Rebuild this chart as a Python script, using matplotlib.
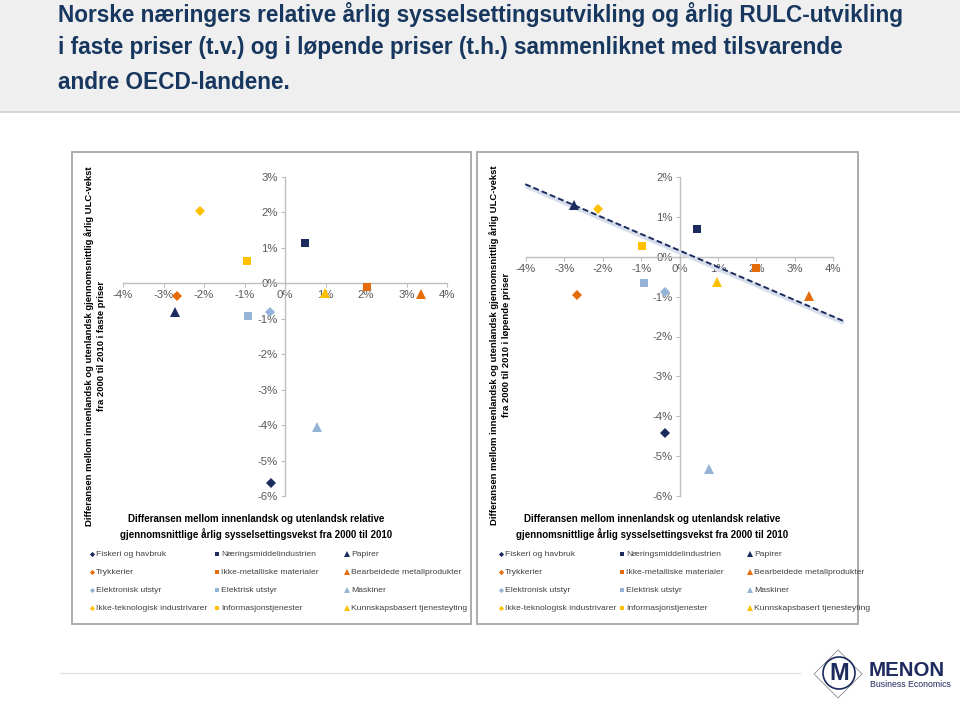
import numpy as np
import matplotlib
matplotlib.use("Agg")
import matplotlib.pyplot as plt
from matplotlib.lines import Line2D
from matplotlib.patches import Rectangle, Circle, Polygon
import matplotlib.transforms as mtransforms

# ---- data ----
series_names = [
    "Fiskeri og havbruk", "Næringsmiddelindustrien", "Papirer",
    "Trykkerier", "Ikke-metalliske materialer", "Bearbeidede metallprodukter",
    "Elektronisk utstyr", "Elektrisk utstyr", "Maskiner",
    "Ikke-teknologisk industrivarer", "Informasjonstjenester", "Kunnskapsbasert tjenesteyting",
]
# x: relativ sysselsettingsvekst (%), y: relativ ULC-vekst (%)
x_vals = [-0.34, 0.49, -2.72, -2.66, 2.02, 3.36, -0.37, -0.91, 0.78, -2.10, -0.95, 0.99]
y_faste = [-5.64, 1.15, -0.81, -0.36, -0.10, -0.29, -0.80, -0.92, -4.05, 2.04, 0.63, -0.27]

x_vals_lop = [-0.37, 0.46, -2.76, -2.68, 2.00, 3.37, -0.38, -0.93, 0.77, -2.13, -0.98, 0.98]
y_lopende = [-4.42, 0.70, 1.30, -0.96, -0.27, -0.98, -0.88, -0.67, -5.32, 1.19, 0.27, -0.63]

trend_x = [-4.02, 4.27]
trend_y = [1.82, -1.61]

left_yticks = [3, 2, 1, 0, -1, -2, -3, -4, -5, -6]
right_yticks = [2, 1, 0, -1, -2, -3, -4, -5, -6]
xticks = [-4, -3, -2, -1, 0, 1, 2, 3, 4]

# colours per row, marker per column
row_colors = ["#1b2b5e", "#e46c0a", "#95b3d7", "#ffc000"]
col_markers = ["D", "s", "^"]
marker_size = {"D": 4.8, "s": 6.3, "^": 7.3}

W, H = 960, 702
plt.rcParams["font.family"] = ["Liberation Sans", "DejaVu Sans"]

fig = plt.figure(figsize=(W / 100, H / 100), dpi=100)
fig.patch.set_facecolor("white")


def fx(px):
    return px / W


def fy(py):
    return 1 - py / H


# header band
fig.add_artist(Rectangle((0, fy(112)), 1, 1 - fy(112), transform=fig.transFigure,
                         facecolor="#efefef", edgecolor="none", zorder=-2))
fig.add_artist(Line2D([0, 1], [fy(112), fy(112)], transform=fig.transFigure,
                      color="#cfcfcf", lw=1.2, zorder=-1))
title_lines = [
    "Norske næringers relative årlig sysselsettingsutvikling og årlig RULC-utvikling",
    "i faste priser (t.v.) og i løpende priser (t.h.) sammenliknet med tilsvarende",
    "andre OECD-landene.",
]
for line, base in zip(title_lines, [22, 54, 89]):
    fig.text(fx(58), fy(base), line, fontsize=16.3, fontweight="bold", color="#17375e",
             va="baseline", ha="left")

# panel frames
for x0, x1 in [(72, 471), (477, 858)]:
    fig.add_artist(Rectangle((fx(x0), fy(624)), fx(x1) - fx(x0), fy(152) - fy(624),
                             transform=fig.transFigure, facecolor="white",
                             edgecolor="#a6a6a6", lw=1.3, zorder=-1))


def setup_axes(ax, ylim, yticks):
    ax.set_xlim(-4, 4)
    ax.set_ylim(*ylim)
    ax.patch.set_alpha(0)
    for s in ["top", "right"]:
        ax.spines[s].set_visible(False)
    ax.spines["left"].set_position(("data", 0))
    ax.spines["bottom"].set_position(("data", 0))
    for s in ["left", "bottom"]:
        ax.spines[s].set_color("#bfbfbf")
        ax.spines[s].set_linewidth(1.0)
    ax.set_xticks(xticks)
    ax.set_xticklabels([f"{t}%" for t in xticks])
    ax.set_yticks(yticks)
    ax.set_yticklabels([f"{t}%" for t in yticks])
    ax.tick_params(axis="both", direction="out", length=3, color="#bfbfbf",
                   labelsize=8.2, labelcolor="#595959", pad=2)


def draw_points(ax, xs, ys):
    for i, (x, y) in enumerate(zip(xs, ys)):
        r, c = divmod(i, 3)
        m = col_markers[c]
        ax.plot(x, y, linestyle="none", marker=m, ms=marker_size[m],
                color=row_colors[r], markeredgewidth=0, zorder=5, clip_on=False)


def draw_legend(xcols, ys_rows):
    for i, name in enumerate(series_names):
        r, c = divmod(i, 3)
        m = col_markers[c]
        px, py = xcols[c], ys_rows[r]
        fig.add_artist(Line2D([fx(px)], [fy(py)], transform=fig.transFigure,
                              marker=m, ms=marker_size[m] * 0.55, color=row_colors[r],
                              markeredgewidth=0, linestyle="none"))
        fig.text(fx(px + 4), fy(py), name, fontsize=6.1, color="#404040",
                 va="center", ha="left")


legend_rows = [554, 572, 590, 608]

# ---- left chart: faste priser ----
axL = fig.add_axes([fx(123), fy(496), fx(447) - fx(123), fy(177) - fy(496)])
setup_axes(axL, (-6, 3), left_yticks)
draw_points(axL, x_vals, y_faste)

fig.text(fx(95), fy(346),
         "Differansen mellom innenlandsk og utenlandsk gjennomsnittlig årlig ULC-vekst\n"
         "fra 2000 til 2010 i faste priser",
         rotation=90, fontsize=6.8, fontweight="bold",
         ha="center", va="center", multialignment="center", linespacing=1.55)
fig.text(fx(256), fy(527),
         "Differansen mellom innenlandsk og utenlandsk relative\n"
         "gjennomsnittlige årlig sysselsettingsvekst fra 2000 til 2010",
         fontsize=7.05, fontweight="bold",
         ha="center", va="center", multialignment="center", linespacing=1.45)
draw_legend([92, 217, 347], legend_rows)

# ---- right chart: løpende priser ----
axR = fig.add_axes([fx(526), fy(496), fx(833) - fx(526), fy(177) - fy(496)])
setup_axes(axR, (-6, 2), right_yticks)

shadow = mtransforms.offset_copy(axR.transData, fig=fig, x=0.5, y=-2.0, units="dots")
axR.plot(trend_x, trend_y, color="#d6ddeb", lw=3, transform=shadow,
         solid_capstyle="butt", clip_on=False, zorder=3)
axR.plot(trend_x, trend_y, color="#1b2b5e", lw=1.4, linestyle=(0, (3, 1.6)),
         clip_on=False, zorder=4)
draw_points(axR, x_vals_lop, y_lopende)

fig.text(fx(500), fy(345),
         "Differansen mellom innenlandsk og utenlandsk gjennomsnittlig årlig ULC-vekst\n"
         "fra 2000 til 2010 i løpende priser",
         rotation=90, fontsize=6.8, fontweight="bold",
         ha="center", va="center", multialignment="center", linespacing=1.55)
fig.text(fx(652), fy(527),
         "Differansen mellom innenlandsk og utenlandsk relative\n"
         "gjennomsnittlige årlig sysselsettingsvekst fra 2000 til 2010",
         fontsize=7.05, fontweight="bold",
         ha="center", va="center", multialignment="center", linespacing=1.45)
draw_legend([501, 622, 750], legend_rows)

# ---- footer ----
fig.add_artist(Line2D([fx(60), fx(800)], [fy(673), fy(673)], transform=fig.transFigure,
                      color="#e3e3e3", lw=1))
logo = fig.add_axes([fx(812), fy(700), fx(864) - fx(812), fy(648) - fy(700)])
logo.set_xlim(0, 52)
logo.set_ylim(0, 52)
logo.set_aspect("equal")
logo.axis("off")
logo.add_patch(Polygon([[26, 2], [50, 26], [26, 50], [2, 26]], closed=True, fill=False,
                       edgecolor="#8c8c8c", lw=0.6))
logo.add_patch(Circle((27, 27), 16, fill=False, edgecolor="#1b2b5e", lw=1.2))
logo.text(27, 26, "M", fontsize=17, fontweight="bold", color="#1b2b5e",
          ha="center", va="center")
fig.text(fx(869), fy(676), "MENON", fontsize=14.8, fontweight="bold", color="#1f2a5e",
         ha="left", va="baseline")
fig.text(fx(870), fy(687), "Business Economics", fontsize=6.3, color="#1f2a5e",
         ha="left", va="baseline")

fig.savefig("out.png", dpi=100)
